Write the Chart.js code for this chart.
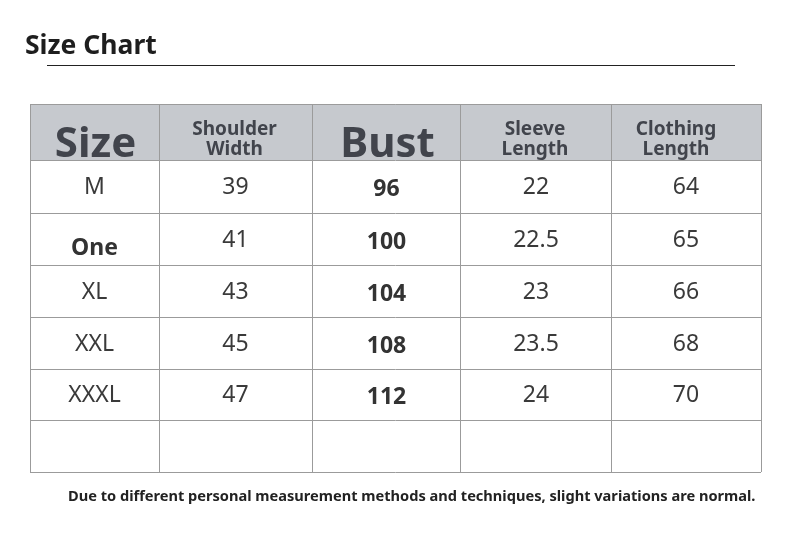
<!DOCTYPE html>
<html>
<head>
<meta charset="utf-8">
<script src="https://cdn.jsdelivr.net/npm/chart.js@4/dist/chart.umd.min.js"></script>
<style>
  html, body { margin: 0; padding: 0; background: #fff; }
  #wrap { width: 790px; height: 537px; position: relative; }
</style>
</head>
<body>
<div id="wrap"><canvas id="sizeChart"></canvas></div>
<script>
// table content
const headers = [['Size'], ['Shoulder', 'Width'], ['Bust'], ['Sleeve', 'Length'], ['Clothing', 'Length']];
const sizes = ['M', 'One', 'XL', 'XXL', 'XXXL', ''];
const shoulder = [39, 41, 43, 45, 47, null];
const bust = [96, 100, 104, 108, 112, null];
const sleeve = [22, 22.5, 23, 23.5, 24, null];
const clothing = [64, 65, 66, 68, 70, null];

const titleText = 'Size Chart';
const noteText = 'Due to different personal measurement methods and techniques, slight variations are normal.';

// layout of the grid (px units along each axis)
const colEdges = [0, 129, 282, 431, 581, 731];
const rowEdges = [0, 56, 109, 161, 213, 265, 316, 368];

const columns = [sizes, shoulder, bust, sleeve, clothing];
const boldCol = [false, false, true, false, false];

const mid = (a, i) => (a[i] + a[i + 1]) / 2;

const datasets = columns.map((vals, c) => ({
  label: headers[c].join(' '),
  data: vals.map((v, r) => ({ x: mid(colEdges, c), y: mid(rowEdges, r + 1), text: v === null ? '' : String(v) })),
  pointRadius: 0,
  pointHoverRadius: 0
}));

const FONT = '"Noto Sans", "Open Sans", sans-serif';
const ink = '#3a3a3a';

const tablePlugin = {
  id: 'tablePlugin',
  beforeDraw(chart) {
    const { ctx, scales: { x, y } } = chart;
    ctx.save();
    ctx.fillStyle = '#c6c9ce';
    ctx.fillRect(x.getPixelForValue(0), y.getPixelForValue(rowEdges[0]),
      x.getPixelForValue(colEdges[colEdges.length - 1]) - x.getPixelForValue(0),
      y.getPixelForValue(rowEdges[1]) - y.getPixelForValue(rowEdges[0]));
    ctx.restore();
  },
  afterDraw(chart) {
    const { ctx, scales: { x, y } } = chart;
    ctx.save();
    // title + rule
    ctx.fillStyle = '#1e1e1e';
    ctx.font = 'bold 26.5px ' + FONT;
    ctx.textAlign = 'left';
    ctx.textBaseline = 'alphabetic';
    ctx.fillText(titleText, 25, 54);
    ctx.strokeStyle = '#222';
    ctx.lineWidth = 1;
    ctx.beginPath();
    ctx.moveTo(47, 65.5);
    ctx.lineTo(735, 65.5);
    ctx.stroke();

    // header row
    ctx.fillStyle = '#41444c';
    ctx.textAlign = 'center';
    headers.forEach((lines, c) => {
      let cx = x.getPixelForValue(mid(colEdges, c));
      if (c === 4) cx -= 9;
      if (lines.length === 1) {
        ctx.font = 'bold 42px ' + FONT;
        ctx.fillText(lines[0], cx + 1, 157);
      } else {
        ctx.font = 'bold 19px ' + FONT;
        ctx.fillText(lines[0], cx - 1, 135);
        ctx.fillText(lines[1], cx - 1, 155);
      }
    });

    // body cells
    ctx.textBaseline = 'middle';
    chart.data.datasets.forEach((ds, c) => {
      const meta = chart.getDatasetMeta(c);
      meta.data.forEach((pt, r) => {
        const txt = ds.data[r].text;
        if (!txt) return;
        let bold = boldCol[c];
        let dy = bold ? 3 : 1;
        if (c === 0 && txt === 'One') { bold = true; dy = 9; }
        ctx.fillStyle = bold ? '#333' : ink;
        ctx.font = (bold ? 'bold ' : '') + '23px ' + FONT;
        ctx.fillText(txt, pt.x, pt.y + dy);
      });
    });

    // footnote
    ctx.fillStyle = '#222';
    ctx.font = 'bold 14.6px ' + FONT;
    ctx.textAlign = 'left';
    ctx.textBaseline = 'middle';
    ctx.fillText(noteText, 68, 497);
    ctx.restore();
  }
};

new Chart(document.getElementById('sizeChart').getContext('2d'), {
  type: 'scatter',
  data: { datasets },
  options: {
    responsive: true,
    maintainAspectRatio: false,
    animation: false,
    events: [],
    layout: { padding: { left: 30, right: 29, top: 104, bottom: 65 } },
    plugins: { legend: { display: false }, tooltip: { enabled: false } },
    scales: {
      x: {
        type: 'linear',
        min: colEdges[0],
        max: colEdges[colEdges.length - 1],
        afterBuildTicks: s => { s.ticks = colEdges.map(v => ({ value: v })); },
        ticks: { display: false },
        border: { display: false },
        grid: { color: '#9b9b9b', lineWidth: 1, drawTicks: false }
      },
      y: {
        type: 'linear',
        reverse: true,
        min: rowEdges[0],
        max: rowEdges[rowEdges.length - 1],
        afterBuildTicks: s => { s.ticks = rowEdges.map(v => ({ value: v })); },
        ticks: { display: false },
        border: { display: false },
        grid: { color: '#9b9b9b', lineWidth: 1, drawTicks: false }
      }
    }
  },
  plugins: [tablePlugin]
});
</script>
</body>
</html>
